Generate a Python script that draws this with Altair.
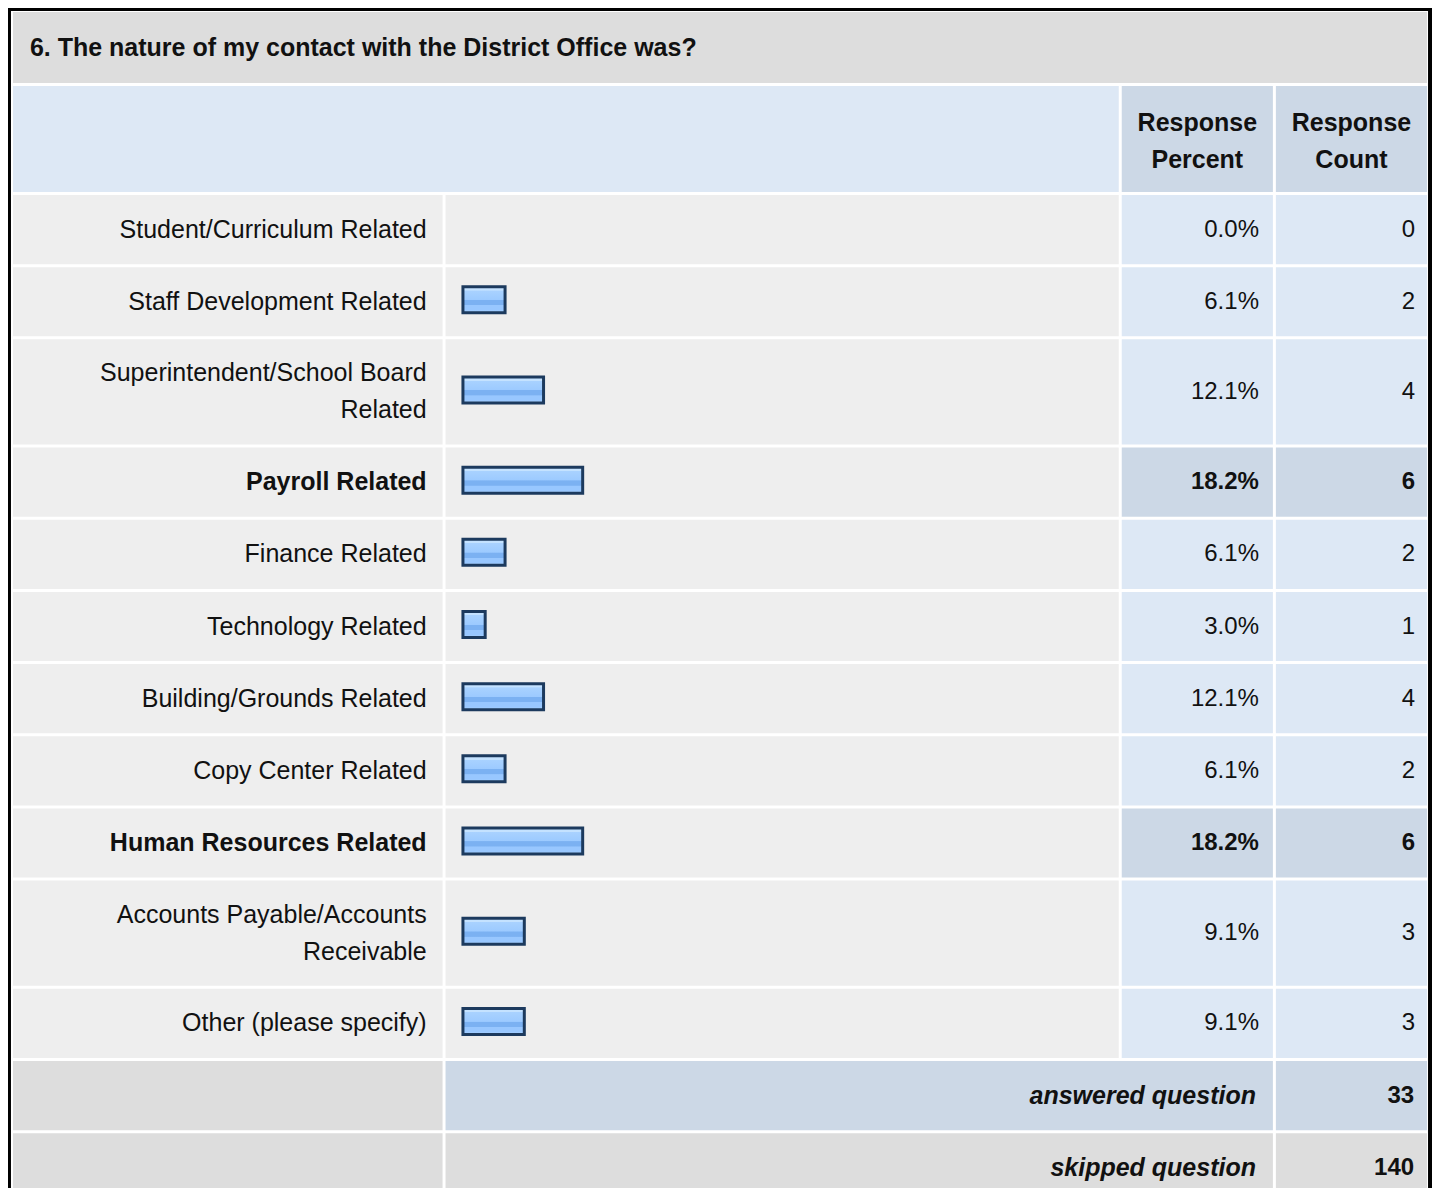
import altair as alt
import pandas as pd

# ---------------- data ----------------
title = "6. The nature of my contact with the District Office was?"
headers = ["Response\nPercent", "Response\nCount"]
labels = [
    "Student/Curriculum Related",
    "Staff Development Related",
    "Superintendent/School Board\nRelated",
    "Payroll Related",
    "Finance Related",
    "Technology Related",
    "Building/Grounds Related",
    "Copy Center Related",
    "Human Resources Related",
    "Accounts Payable/Accounts\nReceivable",
    "Other (please specify)",
]
percents = [0.0, 6.1, 12.1, 18.2, 6.1, 3.0, 12.1, 6.1, 18.2, 9.1, 9.1]
counts = [0, 2, 4, 6, 2, 1, 4, 2, 6, 3, 3]
summary_labels = ["answered question", "skipped question"]
summary_values = [33, 140]

# ---------------- layout (reference pixel units) ----------------
W, H = 1424, 1180
X_DOMAIN = [4, 1436]
Y_DOMAIN = [5, 5 + H]
GAP = 3
PITCH = 72.17
X_LBL = (9, 441)
X_BAR = (444, 1121)
X_PCT = (1124, 1276)
X_CNT = (1279, 1431)
BAR_LEFT = 461.5
PX_PER_PCT = 6.45

C_TITLE = "#DDDDDD"
C_HEAD_L = "#DDE8F5"
C_HEAD_R = "#CCD8E6"
C_LABEL = "#EEEEEE"
C_NUM = "#DDE8F5"
C_NUM_HI = "#CCD8E6"
C_SKIP = "#DDDDDD"
TXT = "#111111"
FONT = "Liberation Sans"
FS_TXT = 25
FS_NUM = 24
LH = 37


def first_line_y(center, text):
    n = text.count("\n") + 1
    return center - (n - 1) * LH / 2


frame = [
    dict(x0=4, x1=1436, y0=5, y1=1400, fill="#000000"),
    dict(x0=7, x1=1432, y0=8, y1=1400, fill="#FFFFFF"),
]

cells = []
cells.append(dict(x0=9, x1=1431, y0=9, y1=80, fill=C_TITLE))
cells.append(dict(x0=X_LBL[0], x1=X_BAR[1], y0=83, y1=189, fill=C_HEAD_L))
cells.append(dict(x0=X_PCT[0], x1=X_PCT[1], y0=83, y1=189, fill=C_HEAD_R))
cells.append(dict(x0=X_CNT[0], x1=X_CNT[1], y0=83, y1=189, fill=C_HEAD_R))

max_count = max(counts)
rows = []
y = 192
for lab, p, c in zip(labels, percents, counts):
    n = lab.count("\n") + 1
    h = PITCH * (1 + 0.5 * (n - 1)) - GAP
    hi = c == max_count
    yc = y + h / 2
    rows.append(dict(label=lab, pct=p, cnt=c, yc=yc, ly=first_line_y(yc, lab), hi=hi,
                     ptxt=f"{p:.1f}%", ctxt=str(c),
                     by0=yc - 15, by1=yc + 11, zero=0))
    cells.append(dict(x0=X_LBL[0], x1=X_LBL[1], y0=y, y1=y + h, fill=C_LABEL))
    cells.append(dict(x0=X_BAR[0], x1=X_BAR[1], y0=y, y1=y + h, fill=C_LABEL))
    cells.append(dict(x0=X_PCT[0], x1=X_PCT[1], y0=y, y1=y + h, fill=C_NUM_HI if hi else C_NUM))
    cells.append(dict(x0=X_CNT[0], x1=X_CNT[1], y0=y, y1=y + h, fill=C_NUM_HI if hi else C_NUM))
    y += h + GAP

summ = []
for i, (lab, v) in enumerate(zip(summary_labels, summary_values)):
    h = PITCH - GAP
    mid = C_HEAD_R if i == 0 else C_SKIP
    ext = 60 if i == 1 else 0
    cells.append(dict(x0=X_LBL[0], x1=X_LBL[1], y0=y, y1=y + h + ext, fill=C_SKIP))
    cells.append(dict(x0=X_BAR[0], x1=X_PCT[1], y0=y, y1=y + h + ext, fill=mid))
    cells.append(dict(x0=X_CNT[0], x1=X_CNT[1], y0=y, y1=y + h + ext, fill=mid))
    summ.append(dict(label=lab, val=str(v), yc=y + h / 2, ly=y + h / 2))
    y += h + GAP

rows_df = pd.DataFrame(rows)
bars_df = rows_df[rows_df["pct"] > 0]
summ_df = pd.DataFrame(summ)

xs = alt.Scale(domain=X_DOMAIN, nice=False, zero=False)
ys = alt.Scale(domain=Y_DOMAIN, nice=False, zero=False, reverse=True)
bar_lo = -(BAR_LEFT - X_DOMAIN[0]) / PX_PER_PCT
bar_hi = bar_lo + (X_DOMAIN[1] - X_DOMAIN[0]) / PX_PER_PCT
bs = alt.Scale(domain=[bar_lo, bar_hi], nice=False, zero=False)


def rect_layer(df):
    return alt.Chart(pd.DataFrame(df)).mark_rect(strokeWidth=0).encode(
        x=alt.X("x0:Q", scale=xs, axis=None),
        x2="x1:Q",
        y=alt.Y("y0:Q", scale=ys, axis=None),
        y2="y1:Q",
        color=alt.Color("fill:N", scale=None),
    )


def text_layer(df, xpos, field, size, yfield="ly", align="right", weight="normal", style="normal"):
    d = df.copy()
    d["xp"] = xpos
    return alt.Chart(d).mark_text(
        align=align, baseline="middle", font=FONT, fontSize=size, fontWeight=weight,
        fontStyle=style, color=TXT, lineBreak="\n", lineHeight=LH,
    ).encode(
        x=alt.X("xp:Q", scale=xs, axis=None),
        y=alt.Y(f"{yfield}:Q", scale=ys, axis=None),
        text=f"{field}:N",
    )


grad = alt.LinearGradient(
    gradient="linear", x1=0, x2=0, y1=0, y2=1,
    stops=[
        alt.GradientStop(color="#C4E2FF", offset=0),
        alt.GradientStop(color="#C4E2FF", offset=0.14),
        alt.GradientStop(color="#A9D2FF", offset=0.15),
        alt.GradientStop(color="#9CCAFF", offset=0.5),
        alt.GradientStop(color="#7BB1F2", offset=0.52),
        alt.GradientStop(color="#7BB1F2", offset=0.7),
        alt.GradientStop(color="#98C7FF", offset=0.72),
        alt.GradientStop(color="#98C7FF", offset=0.9),
        alt.GradientStop(color="#B3DAFF", offset=1),
    ],
)

bars = alt.Chart(bars_df).mark_rect(
    fill=grad, stroke="#1C3A5E", strokeWidth=3, x2Offset=3
).encode(
    x=alt.X("zero:Q", scale=bs, axis=None),
    x2="pct:Q",
    y=alt.Y("by0:Q", scale=ys, axis=None),
    y2="by1:Q",
)

title_df = pd.DataFrame([dict(t=title, ly=45)])
head_df = pd.DataFrame([dict(t=headers[0], ly=first_line_y(138.5, headers[0]))])
head2_df = pd.DataFrame([dict(t=headers[1], ly=first_line_y(138.5, headers[1]))])

norm = rows_df[~rows_df["hi"]]
bold = rows_df[rows_df["hi"]]

X_LBL_TXT = 425
X_PCT_TXT = 1262
X_CNT_TXT = 1419
X_SUM_TXT = 1259
X_SUMV_TXT = 1418

chart = alt.layer(
    rect_layer(frame),
    rect_layer(cells),
    bars,
    text_layer(title_df, 26, "t", FS_TXT, align="left", weight="bold"),
    text_layer(head_df, (X_PCT[0] + X_PCT[1]) / 2, "t", FS_TXT, align="center", weight="bold"),
    text_layer(head2_df, (X_CNT[0] + X_CNT[1]) / 2, "t", FS_TXT, align="center", weight="bold"),
    text_layer(norm, X_LBL_TXT, "label", FS_TXT),
    text_layer(bold, X_LBL_TXT, "label", FS_TXT, weight="bold"),
    text_layer(norm, X_PCT_TXT, "ptxt", FS_NUM, yfield="yc"),
    text_layer(bold, X_PCT_TXT, "ptxt", FS_NUM, yfield="yc", weight="bold"),
    text_layer(norm, X_CNT_TXT, "ctxt", FS_NUM, yfield="yc"),
    text_layer(bold, X_CNT_TXT, "ctxt", FS_NUM, yfield="yc", weight="bold"),
    text_layer(summ_df, X_SUM_TXT, "label", FS_TXT, yfield="yc", weight="bold", style="italic"),
    text_layer(summ_df, X_SUMV_TXT, "val", FS_NUM, yfield="yc", weight="bold"),
).resolve_scale(x="independent").properties(
    width=W, height=H, padding=0, autosize="none"
).configure_view(stroke=None)

chart.save("out.html", embed_options={"renderer": "svg", "actions": False})
